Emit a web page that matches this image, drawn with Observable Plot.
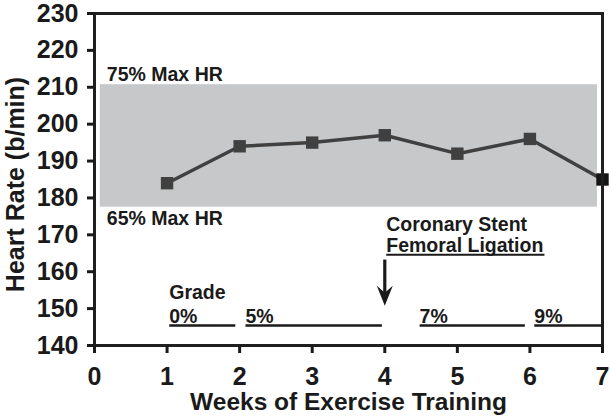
<!DOCTYPE html>
<html><head><meta charset="utf-8">
<script src="https://cdn.jsdelivr.net/npm/d3@7"></script>
<script src="https://cdn.jsdelivr.net/npm/@observablehq/plot@0.6"></script>
<style>body{margin:0;background:#fff;}</style>
</head><body><div id="chart"></div>
<script>
// ---- data ----
const weeks = [1, 2, 3, 4, 5, 6, 7];
const heartRate = [184, 194, 195, 197, 192, 196, 185];
const xTicks = [0, 1, 2, 3, 4, 5, 6, 7];
const yTicks = [140, 150, 160, 170, 180, 190, 200, 210, 220, 230];
const xTitle = "Weeks of Exercise Training";
const yTitle = "Heart Rate (b/min)";
const zoneLow = 177.5, zoneHigh = 210.7;        // 65% / 75% max HR band
const zoneStart = 0.08, zoneEnd = 6.93;
const zoneLabels = ["75% Max HR", "65% Max HR"];
const zoneLabelY = [213.5, 174.3];
const zoneLabelX = 0.17;
const gradeTitle = "Grade";
const gradeLabels = ["0%", "5%", "7%", "9%"];
const gradeStart = [1.03, 2.08, 4.48, 6.06];
const gradeEnd = [1.94, 3.96, 5.93, 7.0];
const gradeLineY = 145.4;
const gradeLabelY = 147.9;
const gradeTitleY = 154.3;
const eventLines = ["Coronary Stent", "Femoral Ligation"];
const eventX = 4.02;
const eventY = [172.7, 167.1];
const eventUnderlineEnd = 6.2;
const eventUnderlineY = 164.6;
const eventWeek = 4;
const arrowTop = 163.3, arrowTip = 150.8;

const data = weeks.map((w, i) => ({week: w, hr: heartRate[i]}));
const font = "'Liberation Sans', Arial, Helvetica, sans-serif";

// filled, barbed arrowhead pointing down with its tip at the origin
const arrowHead = {
  draw(ctx) {
    ctx.moveTo(0, 0);
    ctx.lineTo(-8, -20);
    ctx.lineTo(0, -13);
    ctx.lineTo(8, -20);
    ctx.closePath();
  }
};

const chart = Plot.plot({
  width: 610, height: 419,
  marginLeft: 94, marginRight: 8, marginTop: 13, marginBottom: 74,
  x: {domain: [0, 7]},
  y: {domain: [140, 230]},
  style: {fontFamily: font, fontWeight: "bold", background: "white", color: "#1a1a1a"},
  marks: [
    Plot.rect([{x1: zoneStart, x2: zoneEnd, y1: zoneLow, y2: zoneHigh}],
      {x1: "x1", x2: "x2", y1: "y1", y2: "y2", fill: "#c7c8ca"}),
    Plot.text(zoneLabels, {x: zoneLabelX, y: (d, i) => zoneLabelY[i], text: d => d,
      textAnchor: "start", fontSize: 19.5, fill: "#1a1a1a"}),
    Plot.line(data, {x: "week", y: "hr", stroke: "#404040", strokeWidth: 3.5}),
    Plot.dot(data, {x: "week", y: "hr", symbol: "square", r: 7, stroke: null,
      fill: (d, i) => i === data.length - 1 ? "#151515" : "#404040"}),
    Plot.frame({stroke: "#1f1f1f", strokeWidth: 3}),
    Plot.axisX({ticks: xTicks, tickSize: 8, tickPadding: 14, fontSize: 25, strokeWidth: 3,
      tickFormat: d => String(d), label: null}),
    Plot.axisY({ticks: yTicks, tickSize: 7, tickPadding: 9, fontSize: 25, strokeWidth: 3,
      tickFormat: d => String(d), label: null}),
    Plot.text([xTitle], {frameAnchor: "bottom", dy: 57, text: d => d, fontSize: 24.5,
      textAnchor: "middle", lineAnchor: "middle", fill: "#1a1a1a"}),
    Plot.text([yTitle], {frameAnchor: "left", dx: -79, dy: 5, rotate: -90, text: d => d,
      fontSize: 25, textAnchor: "middle", lineAnchor: "middle", fill: "#1a1a1a"}),
    // event annotation
    Plot.text(eventLines, {x: eventX, y: (d, i) => eventY[i], text: d => d,
      textAnchor: "start", fontSize: 19.5, fill: "#1a1a1a"}),
    Plot.link([0], {x1: eventX, x2: eventUnderlineEnd, y1: eventUnderlineY, y2: eventUnderlineY,
      stroke: "#1a1a1a", strokeWidth: 2}),
    Plot.link([0], {x1: eventWeek, x2: eventWeek, y1: arrowTop, y2: arrowTip + 3,
      stroke: "#1a1a1a", strokeWidth: 3.2}),
    Plot.dot([0], {x: eventWeek, y: arrowTip, symbol: arrowHead, fill: "#1a1a1a", stroke: null}),
    // grade annotation
    Plot.text([gradeTitle], {x: gradeStart[0], y: gradeTitleY, text: d => d,
      textAnchor: "start", fontSize: 19.5, fill: "#1a1a1a"}),
    Plot.text(gradeLabels, {x: (d, i) => gradeStart[i], y: gradeLabelY, text: d => d,
      textAnchor: "start", fontSize: 19.5, fill: "#1a1a1a"}),
    Plot.link(gradeLabels, {x1: (d, i) => gradeStart[i], x2: (d, i) => gradeEnd[i],
      y1: gradeLineY, y2: gradeLineY, stroke: "#1a1a1a", strokeWidth: 2.5})
  ]
});
document.getElementById("chart").appendChild(chart);
</script>
</body></html>
